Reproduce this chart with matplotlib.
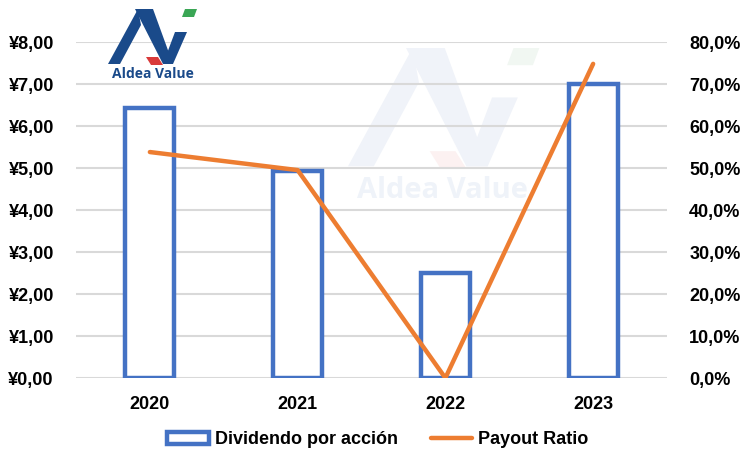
import matplotlib
matplotlib.use("Agg")
import matplotlib.pyplot as plt
from matplotlib.patches import Polygon, Rectangle
from matplotlib.lines import Line2D
from matplotlib.ticker import FuncFormatter

plt.rcParams['font.family'] = ['Liberation Sans', 'DejaVu Sans']

years = ["2020", "2021", "2022", "2023"]
dividend = [6.43, 4.94, 2.49, 6.99]
payout = [53.8, 49.5, 0.0, 74.8]
left_ticks = [0, 1, 2, 3, 4, 5, 6, 7, 8]
right_ticks = [0, 10, 20, 30, 40, 50, 60, 70, 80]

BLUE = "#4472C4"
ORANGE = "#ED7D31"
GRID = "#D9D9D9"

W, H = 749, 470
fig = plt.figure(figsize=(W / 100, H / 100), dpi=100)

# background overlay (watermark)
bg = fig.add_axes([0, 0, 1, 1], zorder=0)
bg.set_xlim(0, W); bg.set_ylim(H, 0); bg.axis("off")

# logo shapes in local pixel coords (width ~89, height ~55)
logo_blue = [
    [(0, 55), (12, 55), (33, 16), (30, 0)],
    [(27, 0), (45, 0), (65, 55), (55, 55)],
    [(55, 55), (65, 55), (79, 23), (67, 23)],
]
logo_green = [(74, 8), (77, 0), (89, 0), (86, 8)]
logo_red = [(38, 48), (50, 48), (55, 56), (43, 56)]


def draw_logo(ax, ox, oy, s, blue, green, red, textcolor, fs, ty, tx):
    for poly in logo_blue:
        ax.add_patch(Polygon([(ox + x * s, oy + y * s) for x, y in poly], closed=True,
                             facecolor=blue, edgecolor="none"))
    ax.add_patch(Polygon([(ox + x * s, oy + y * s) for x, y in logo_green], closed=True,
                         facecolor=green, edgecolor="none"))
    ax.add_patch(Polygon([(ox + x * s, oy + y * s) for x, y in logo_red], closed=True,
                         facecolor=red, edgecolor="none"))
    ax.text(tx, ty, "Aldea Value", color=textcolor, fontsize=fs, fontweight="bold",
            family=["Open Sans", "DejaVu Sans"], ha="center", va="center")


draw_logo(bg, 348, 48, 2.15, "#F0F3F9", "#F1F7F2", "#FCF1F1", "#EFF3F9", 21, 190, 442)

ax = fig.add_axes([76 / W, 1 - 378 / H, (667 - 76) / W, (378 - 42) / H], zorder=1)
ax.set_facecolor("none")
x = list(range(len(years)))
ax.bar(x, dividend, width=0.33, facecolor="white", edgecolor=BLUE, linewidth=3.2,
       zorder=3, label="Dividendo por acción")
ax.set_xlim(-0.5, len(years) - 0.5)
ax.set_ylim(0, 8)
ax.set_yticks(left_ticks)
ax.yaxis.set_major_formatter(FuncFormatter(lambda v, p: "¥" + f"{v:.2f}".replace(".", ",")))
ax.set_xticks(x)
ax.set_xticklabels(years)
ax.grid(axis="y", color=GRID, linewidth=1.5, zorder=0)
ax.set_axisbelow(True)
for s in ax.spines.values():
    s.set_visible(False)
ax.tick_params(length=0, labelsize=13)
ax.tick_params(axis="y", pad=16)
ax.tick_params(axis="x", pad=13)
for lab in ax.get_xticklabels() + ax.get_yticklabels():
    lab.set_fontweight("bold")

ax2 = ax.twinx()
ax2.plot(x, payout, color=ORANGE, linewidth=3.2, solid_capstyle="round",
         solid_joinstyle="round", zorder=4)
ax2.set_ylim(0, 80)
ax2.set_yticks(right_ticks)
ax2.yaxis.set_major_formatter(FuncFormatter(lambda v, p: f"{v:.1f}".replace(".", ",") + "%"))
for s in ax2.spines.values():
    s.set_visible(False)
ax2.tick_params(length=0, labelsize=13, pad=16)
for lab in ax2.get_yticklabels():
    lab.set_fontweight("bold")

handles = [Rectangle((0, 0), 1, 1, facecolor="white", edgecolor=BLUE, linewidth=3.2),
           Line2D([0], [0], color=ORANGE, linewidth=3.2, solid_capstyle="round")]
fig.legend(handles, ["Dividendo por acción", "Payout Ratio"], loc="center",
           bbox_to_anchor=(378 / W, 1 - 440 / H), ncol=2, frameon=False,
           prop={"size": 13, "weight": "bold"}, handlelength=2.3, handleheight=0.6,
           handletextpad=0.35, columnspacing=1.8)

# foreground logo
fg = fig.add_axes([0, 0, 1, 1], zorder=5)
fg.set_xlim(0, W); fg.set_ylim(H, 0); fg.axis("off")
draw_logo(fg, 108, 9, 1.0, "#1A4A8A", "#3AA655", "#D93A3A", "#1A4A8A", 10, 74, 153)

fig.savefig("out.png", dpi=100)
